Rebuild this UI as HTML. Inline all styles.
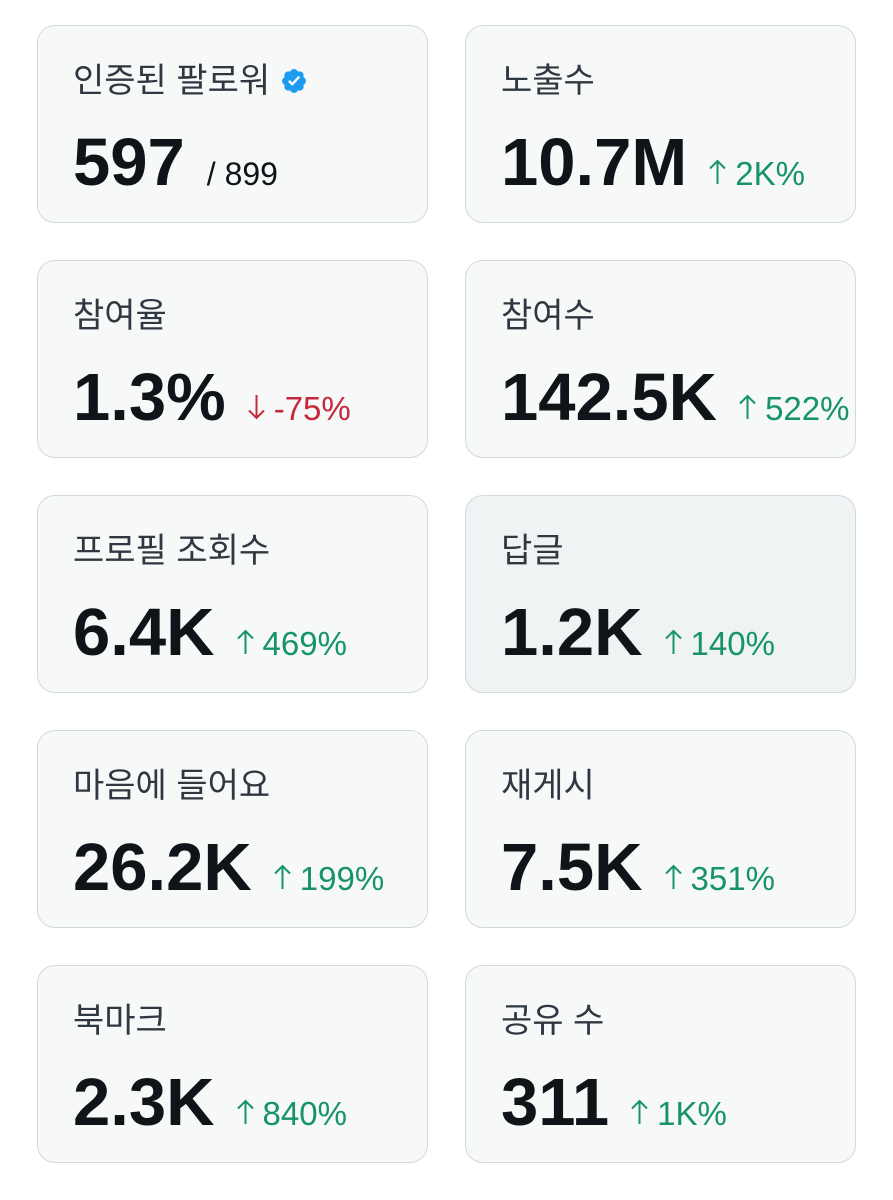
<!DOCTYPE html>
<html><head><meta charset="utf-8">
<style>
html,body{margin:0;padding:0;background:#fff;width:893px;height:1200px;overflow:hidden}
.card{position:absolute;width:391px;height:198px;box-sizing:border-box;border:1.5px solid #cfd9de;border-radius:18px;background:#f7f9f9;}
.card.hover{background:#eff3f4}
.title{position:absolute;left:35px;top:38px;font:34px/34px "Liberation Sans","Noto Sans CJK KR",sans-serif;color:#2f3740;white-space:nowrap}
.val{position:absolute;left:35px;top:103px;font:bold 67px/67px "Liberation Sans",sans-serif;color:#0f1419;white-space:nowrap}
.delta{font:33px "Liberation Sans",sans-serif;font-weight:normal;margin-left:22px;letter-spacing:0}
.up{color:#17936a}.down{color:#c4293a}.sub{color:#0f1419;font-size:32px}
.arrow{display:inline-block;width:17px;height:26px;margin-right:9px;vertical-align:baseline}
.badge{display:inline-block;vertical-align:-3px;margin-left:10px}
</style></head><body>
<div id="grid"></div>
<script>
const titles=["인증된 팔로워","노출수","참여율","참여수","프로필 조회수","답글","마음에 들어요","재게시","북마크","공유 수"];
const values=["597","10.7M","1.3%","142.5K","6.4K","1.2K","26.2K","7.5K","2.3K","311"];
const deltas=["/ 899","2K%","-75%","522%","469%","140%","199%","351%","840%","1K%"];
const kinds=["sub","up","down","up","up","up","up","up","up","up"];
const names=["verified-followers","impressions","engagement-rate","engagements","profile-visits","replies","likes","reposts","bookmarks","shares"];
const grid=document.getElementById('grid');
const NS='http://www.w3.org/2000/svg';
titles.forEach((t,i)=>{
  const col=i%2,row=Math.floor(i/2);
  const c=document.createElement('div');
  c.className='card'+(i===5?' hover':'');
  c.style.left=(37+col*428)+'px';
  c.style.top=(25+row*235)+'px';
  
  
  const ti=document.createElement('div');ti.className='title';ti.textContent=t;
  
  
  if(i===0){
    const b=document.createElementNS(NS,'svg');
    b.setAttribute('width','28');b.setAttribute('height','28');b.setAttribute('viewBox','0 0 24 24');b.setAttribute('class','badge');
    b.innerHTML='<path fill="#1d9bf0" d="M22.25 12c0-1.43-.88-2.67-2.19-3.34.46-1.39.2-2.9-.81-3.910s-2.52-1.27-3.91-.81c-.66-1.31-1.910-2.19-3.34-2.19s-2.67.88-3.33 2.19c-1.4-.46-2.91-.2-3.92.81s-1.26 2.52-.8 3.91c-1.31.67-2.2 1.91-2.2 3.34s.89 2.67 2.2 3.34c-.46 1.39-.21 2.9.8 3.91s2.52 1.26 3.91.81c.67 1.31 1.91 2.190 3.34 2.19s2.68-.88 3.34-2.19c1.39.45 2.9.2 3.91-.81s1.27-2.52.81-3.91c1.31-.67 2.19-1.91 2.19-3.34z"/><path fill="#fff" d="M10.54 16.2l-3.6-3.6 1.42-1.42 2.14 2.15 5.23-5.7 1.48 1.36z"/>';
    
    
    ti.appendChild(b);
  }
  const v=document.createElement('div');v.className='val';v.textContent=values[i];
  
  
  const d=document.createElement('span');d.className='delta '+kinds[i];
  
  
  if(kinds[i]!=='sub'){
    const a=document.createElementNS(NS,'svg');
    a.setAttribute('class','arrow');a.setAttribute('viewBox','0 0 17 26');
    const col2=kinds[i]==='up'?'#17936a':'#c4293a';
    a.innerHTML=kinds[i]==='up'
      ?'<path d="M8.5 25V2 M1 9.5L8.5 2L16 9.5" fill="none" stroke="'+col2+'" stroke-width="2"/>'
      :'<path d="M8.5 1V24 M1 16.5L8.5 24L16 16.5" fill="none" stroke="'+col2+'" stroke-width="2"/>';
    
    
    d.appendChild(a);
  }
  d.appendChild(document.createTextNode(deltas[i]));
  v.appendChild(d);
  c.appendChild(ti);c.appendChild(v);grid.appendChild(c);
});
</script>
</body></html>
